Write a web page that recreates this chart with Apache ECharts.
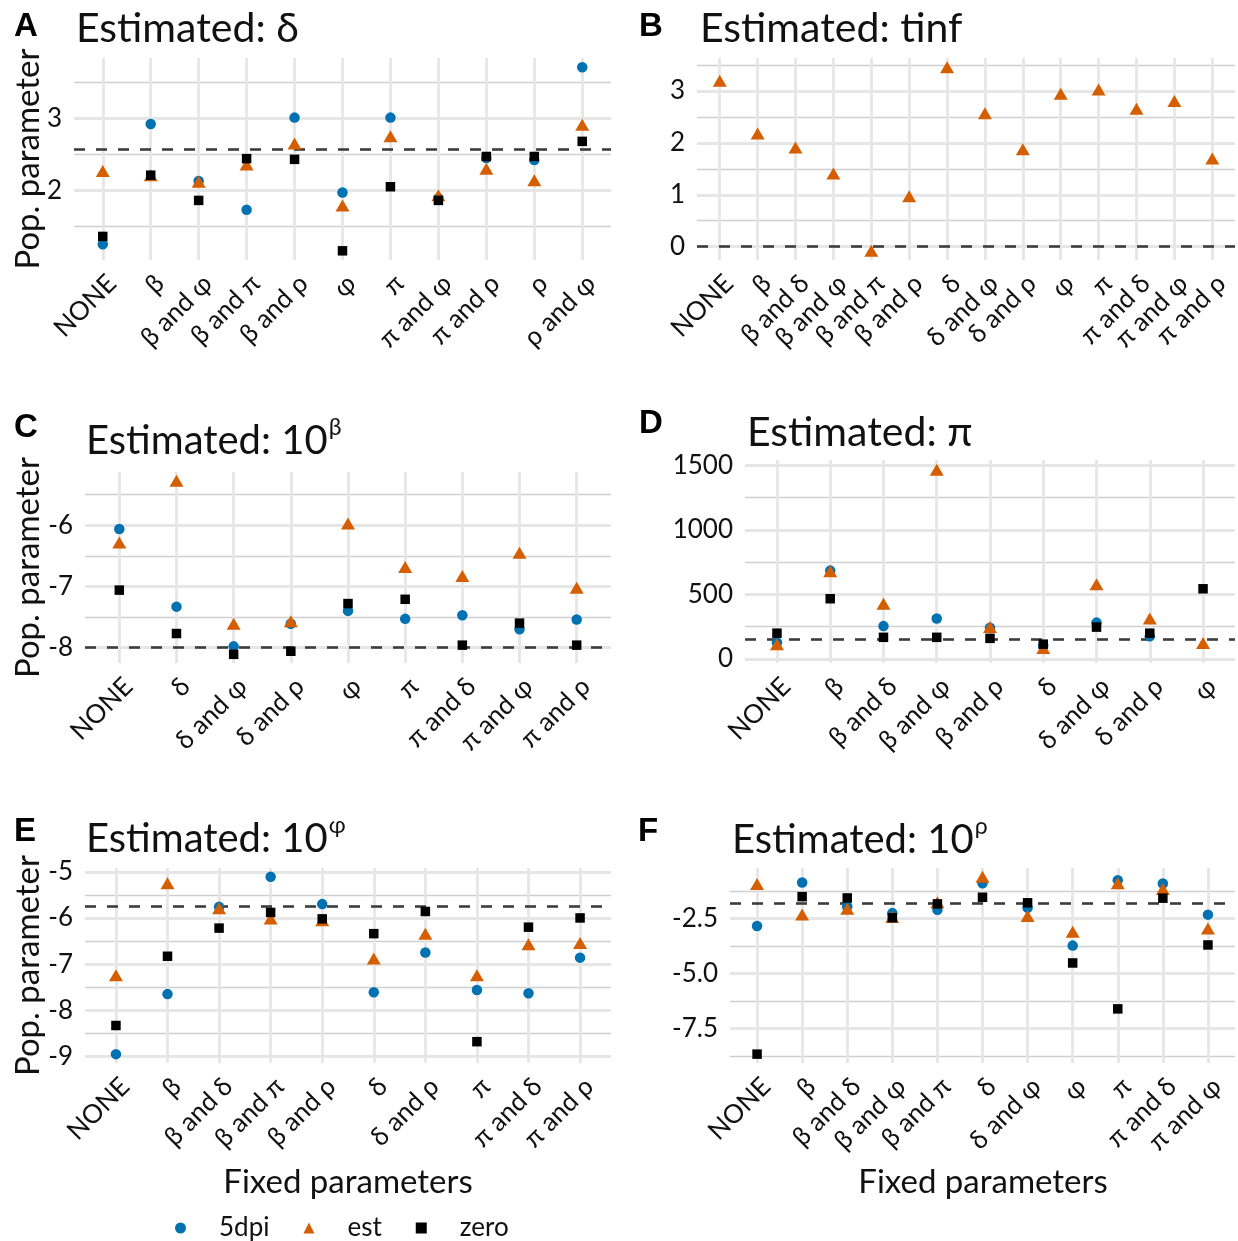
<!DOCTYPE html>
<html>
<head>
<meta charset="utf-8">
<script src="https://cdn.jsdelivr.net/npm/echarts@6/dist/echarts.min.js"></script>
<style>
  html, body { margin: 0; padding: 0; background: #fff; }
  #chart { width: 1238px; height: 1241px; }
</style>
</head>
<body>
<div id="chart"></div>
<script>
// ---- data ----
const catsA = ['NONE', 'β', 'β and φ', 'β and π', 'β and ρ', 'φ', 'π', 'π and φ', 'π and ρ', 'ρ', 'ρ and φ'];
const dpiA  = [1.25, 2.92, 2.13, 1.73, 3.01, 1.97, 3.01, 1.89, 2.45, 2.42, 3.71];
const estA  = [2.27, 2.21, 2.12, 2.36, 2.65, 1.79, 2.75, 1.93, 2.30, 2.14, 2.91];
const zeroA = [1.36, 2.21, 1.86, 2.44, 2.43, 1.16, 2.05, 1.86, 2.47, 2.47, 2.68];
const refA = 2.57;
const majorA = [2, 3];
const minorA = [1.5, 2.5, 3.5];

const catsB = ['NONE', 'β', 'β and δ', 'β and φ', 'β and π', 'β and ρ', 'δ', 'δ and φ', 'δ and ρ', 'φ', 'π', 'π and δ', 'π and φ', 'π and ρ'];
const estB  = [3.20, 2.18, 1.91, 1.41, -0.08, 0.97, 3.46, 2.57, 1.88, 2.95, 3.03, 2.66, 2.81, 1.70];
const refB = 0;
const majorB = [0, 1, 2, 3];
const minorB = [0.5, 1.5, 2.5, 3.5];

const catsC = ['NONE', 'δ', 'δ and φ', 'δ and ρ', 'φ', 'π', 'π and δ', 'π and φ', 'π and ρ'];
const dpiC  = [-6.06, -7.33, -7.98, -7.61, -7.40, -7.53, -7.47, -7.70, -7.54];
const estC  = [-6.28, -5.27, -7.61, -7.57, -5.97, -6.68, -6.83, -6.45, -7.02];
const zeroC = [-7.06, -7.77, -8.11, -8.06, -7.28, -7.21, -7.96, -7.60, -7.96];
const refC = -8;
const majorC = [-8, -7, -6];
const minorC = [-7.5, -6.5, -5.5];

const catsD = ['NONE', 'β', 'β and δ', 'β and φ', 'β and ρ', 'δ', 'δ and φ', 'δ and ρ', 'φ'];
const dpiD  = [127, 684, 254, 313, 241, 101, 281, 175, null];
const estD  = [114, 678, 427, 1466, 246, 85, 578, 313, 122];
const zeroD = [199, 466, 167, 167, 159, 114, 246, 199, 543];
const refD = 150;
const majorD = [0, 500, 1000, 1500];
const minorD = [250, 750, 1250];
const lowD = -32;   // panel D's axis reaches below zero

const catsE = ['NONE', 'β', 'β and δ', 'β and π', 'β and ρ', 'δ', 'δ and ρ', 'π', 'π and δ', 'π and ρ'];
const dpiE  = [-8.95, -7.65, -5.76, -5.11, -5.70, -7.61, -6.75, -7.56, -7.63, -6.86];
const estE  = [-7.24, -5.25, -5.79, -6.01, -6.05, -6.88, -6.34, -7.24, -6.57, -6.54];
const zeroE = [-8.33, -6.83, -6.22, -5.88, -6.02, -6.34, -5.86, -8.68, -6.20, -6.00];
const refE = -5.74;
const majorE = [-9, -8, -7, -6, -5];
const minorE = [-8.5, -7.5, -6.5, -5.5];

const catsF = ['NONE', 'β', 'β and δ', 'β and φ', 'β and π', 'δ', 'δ and φ', 'φ', 'π', 'π and δ', 'π and φ'];
const dpiF  = [-2.84, -0.86, -1.95, -2.25, -2.10, -0.89, -2.01, -3.73, -0.75, -0.90, -2.32];
const estF  = [-0.93, -2.31, -2.05, -2.43, -1.75, -0.60, -2.38, -3.10, -0.89, -1.15, -2.95];
const zeroF = [-8.67, -1.50, -1.56, -2.46, -1.83, -1.53, -1.78, -4.52, -6.61, -1.57, -3.70];
const refF = -1.78;
const majorF = [-7.5, -5, -2.5];
const minorF = [-8.75, -6.25, -3.75, -1.25];

// ---- layout ----
const FONT = 'Lato';
const TXT = '#111';
const COL = { dpi: '#0072B2', est: '#D55E00', zero: '#000000' };

const panels = [
  { cats: catsA, dpi: dpiA, est: estA, zero: zeroA, ref: refA, major: majorA, minor: minorA, dec: 0,
    box: { left: 74, top: 58, width: 537, height: 202 } },
  { cats: catsB, dpi: null, est: estB, zero: null, ref: refB, major: majorB, minor: minorB, dec: 0,
    box: { left: 697, top: 58, width: 538, height: 202 } },
  { cats: catsC, dpi: dpiC, est: estC, zero: zeroC, ref: refC, major: majorC, minor: minorC, dec: 0,
    box: { left: 85, top: 472, width: 526, height: 191 } },
  { cats: catsD, dpi: dpiD, est: estD, zero: zeroD, ref: refD, major: majorD, minor: minorD, dec: 0, low: lowD,
    box: { left: 745, top: 460, width: 490, height: 203 } },
  { cats: catsE, dpi: dpiE, est: estE, zero: zeroE, ref: refE, major: majorE, minor: minorE, dec: 0,
    box: { left: 85, top: 868, width: 526, height: 195 } },
  { cats: catsF, dpi: dpiF, est: estF, zero: zeroF, ref: refF, major: majorF, minor: minorF, dec: 1,
    box: { left: 730, top: 868, width: 505, height: 195 } }
];

// ggplot-like range: data + reference line, 5% padding
function yRange(p) {
  const vals = [].concat(p.dpi || [], p.est || [], p.zero || [], [p.ref]).filter(v => v != null);
  if (p.low != null) vals.push(p.low);
  let lo = Math.min(...vals), hi = Math.max(...vals);
  const pad = (hi - lo) * 0.05;
  return [p.low != null ? p.low : lo - pad, hi + pad];
}

const grid = [], xAxis = [], yAxis = [], series = [];

panels.forEach((p, k) => {
  const n = p.cats.length;
  grid.push(Object.assign({ containLabel: false }, p.box));

  xAxis.push({
    type: 'value', gridIndex: k, min: -0.6, max: n - 0.4,
    axisLine: { show: false }, axisTick: { show: false }, splitLine: { show: false },
    axisLabel: {
      customValues: p.cats.map((c, i) => i),
      formatter: v => p.cats[Math.round(v)],
      rotate: 45, align: 'right', verticalAlign: 'top', margin: 10,
      fontFamily: FONT, fontSize: 26, color: TXT
    }
  });

  const [lo, hi] = yRange(p);
  yAxis.push({
    type: 'value', gridIndex: k, min: lo, max: hi,
    axisLine: { show: false }, axisTick: { show: false }, splitLine: { show: false },
    axisLabel: {
      customValues: p.major,
      formatter: v => v.toFixed(p.dec),
      margin: 12, fontFamily: FONT, fontSize: 26, color: TXT
    }
  });

  // panel grid lines + dashed reference line
  const lines = [];
  p.minor.forEach(v => lines.push({ yAxis: v, lineStyle: { color: '#cfcfcf', width: 1.4, type: 'solid' } }));
  p.major.forEach(v => lines.push({ yAxis: v, lineStyle: { color: '#e6e6e6', width: 2.8, type: 'solid' } }));
  p.cats.forEach((c, i) => lines.push({ xAxis: i, lineStyle: { color: '#e6e6e6', width: 2.8, type: 'solid' } }));
  lines.push({ yAxis: p.ref, lineStyle: { color: '#3d3d3d', width: 2.6, type: [11, 11] } });

  series.push({
    type: 'scatter', name: 'grid' + k, xAxisIndex: k, yAxisIndex: k, data: [], z: 1, silent: true,
    markLine: {
      symbol: ['none', 'none'], silent: true, animation: false, z: 1,
      label: { show: false }, emphasis: { disabled: true },
      data: lines
    }
  });

  [['5dpi', p.dpi, 'circle', 10.5, COL.dpi],
   ['est', p.est, 'triangle', [14, 12], COL.est],
   ['zero', p.zero, 'rect', 9.5, COL.zero]].forEach(([name, vals, sym, size, color]) => {
    if (!vals) return;
    series.push({
      type: 'scatter', name, xAxisIndex: k, yAxisIndex: k, z: 3,
      symbol: sym, symbolSize: size,
      itemStyle: { color, opacity: 1 },
      data: vals.map((v, i) => [i, v]).filter(d => d[1] != null),
      animation: false
    });
  });
});

// ---- texts ----
function txt(x, y, text, size, extra) {
  return {
    type: 'text', x, y, silent: true,
    style: Object.assign({ text, fontFamily: FONT, fontSize: size, fill: TXT, align: 'left', verticalAlign: 'middle' }, extra || {})
  };
}
function letter(x, y, t) {
  return txt(x, y, t, 33, { fontFamily: 'Liberation Sans', fontWeight: 'bold', fill: '#000' });
}
function supTitle(x, y, sup) {
  return {
    type: 'text', x, y: y - 2, silent: true,
    style: {
      text: '{m|Estimated: 10}{s|' + sup + '}',
      align: 'left', verticalAlign: 'middle', fill: TXT,
      rich: {
        m: { fontFamily: FONT, fontSize: 40, lineHeight: 42, verticalAlign: 'bottom', fill: TXT },
        s: { fontFamily: FONT, fontSize: 23, lineHeight: 24, verticalAlign: 'bottom', padding: [0, 0, 22, 1], fill: TXT }
      }
    }
  };
}
function yTitle(panel) {
  const b = panel.box;
  return {
    type: 'text', x: 28, y: b.top + b.height / 2, rotation: Math.PI / 2, silent: true,
    style: { text: 'Pop. parameter', fontFamily: FONT, fontSize: 33, fill: TXT, align: 'center', verticalAlign: 'middle' }
  };
}

const graphic = [
  letter(14, 27, 'A'), txt(76, 29, 'Estimated: δ', 41),
  letter(639, 27, 'B'), txt(700, 29, 'Estimated: tinf', 41),
  letter(14, 428, 'C'), supTitle(86, 442, 'β'),
  letter(639, 424, 'D'), txt(747, 433, 'Estimated: π', 41),
  letter(14, 832, 'E'), supTitle(86, 840, 'φ'),
  letter(638, 832, 'F'), supTitle(732, 841, 'ρ'),
  yTitle(panels[0]), yTitle(panels[2]), yTitle(panels[4]),
  txt(348, 1182, 'Fixed parameters', 33, { align: 'center' }),
  txt(983, 1182, 'Fixed parameters', 33, { align: 'center' })
];

const chart = echarts.init(document.getElementById('chart'), null, { renderer: 'canvas' });
chart.setOption({
  backgroundColor: '#ffffff',
  animation: false,
  grid, xAxis, yAxis, series, graphic,
  legend: {
    data: ['5dpi', 'est', 'zero'],
    left: 175, top: 1215, padding: 0,
    itemWidth: 11, itemHeight: 11, itemGap: 34,
    selectedMode: false,
    textStyle: { fontFamily: FONT, fontSize: 26, color: TXT, padding: [0, 0, 0, 28] }
  }
});
</script>
</body>
</html>
